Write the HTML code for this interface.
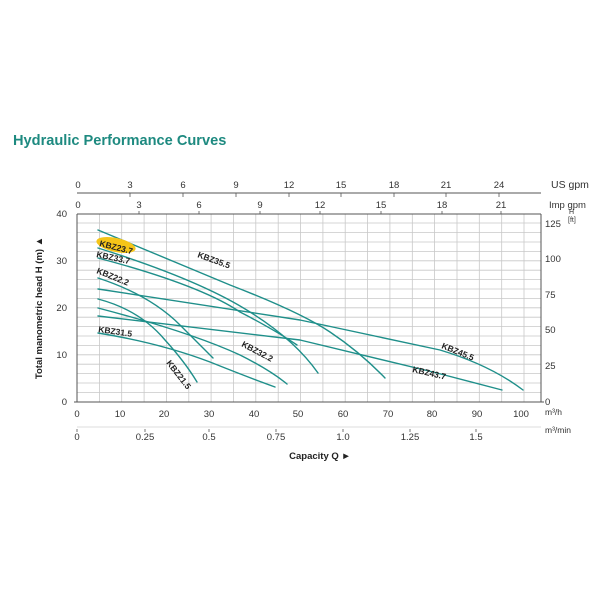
<!DOCTYPE html>
<html><head><meta charset="utf-8"><style>
body{margin:0;background:#fff;}
svg{display:block;font-family:"Liberation Sans",Arial,sans-serif;}
</style></head><body>
<svg width="600" height="600" viewBox="0 0 600 600" xmlns="http://www.w3.org/2000/svg">
<rect width="600" height="600" fill="#fff"/>
<text x="13" y="145" font-size="14.6" font-weight="bold" fill="#1e8a80">Hydraulic Performance Curves</text>
<g stroke="#c8c8c8" stroke-width="0.8">
<line x1="77" y1="223" x2="541" y2="223"/>
<line x1="77" y1="232.6" x2="541" y2="232.6"/><line x1="77" y1="242" x2="541" y2="242"/><line x1="77" y1="251.4" x2="541" y2="251.4"/><line x1="77" y1="260.8" x2="541" y2="260.8"/><line x1="77" y1="270.2" x2="541" y2="270.2"/><line x1="77" y1="279.6" x2="541" y2="279.6"/><line x1="77" y1="289" x2="541" y2="289"/><line x1="77" y1="298.4" x2="541" y2="298.4"/><line x1="77" y1="307.8" x2="541" y2="307.8"/><line x1="77" y1="317.2" x2="541" y2="317.2"/><line x1="77" y1="326.6" x2="541" y2="326.6"/><line x1="77" y1="336" x2="541" y2="336"/><line x1="77" y1="345.4" x2="541" y2="345.4"/><line x1="77" y1="354.8" x2="541" y2="354.8"/><line x1="77" y1="364.2" x2="541" y2="364.2"/><line x1="77" y1="373.6" x2="541" y2="373.6"/><line x1="77" y1="383" x2="541" y2="383"/><line x1="77" y1="392.4" x2="541" y2="392.4"/>
<line x1="99.4" y1="214" x2="99.4" y2="402"/><line x1="121.7" y1="214" x2="121.7" y2="402"/><line x1="144.1" y1="214" x2="144.1" y2="402"/><line x1="166.4" y1="214" x2="166.4" y2="402"/><line x1="188.8" y1="214" x2="188.8" y2="402"/><line x1="211.1" y1="214" x2="211.1" y2="402"/><line x1="233.5" y1="214" x2="233.5" y2="402"/><line x1="255.8" y1="214" x2="255.8" y2="402"/><line x1="278.2" y1="214" x2="278.2" y2="402"/><line x1="300.5" y1="214" x2="300.5" y2="402"/><line x1="322.9" y1="214" x2="322.9" y2="402"/><line x1="345.2" y1="214" x2="345.2" y2="402"/><line x1="367.6" y1="214" x2="367.6" y2="402"/><line x1="389.9" y1="214" x2="389.9" y2="402"/><line x1="412.3" y1="214" x2="412.3" y2="402"/><line x1="434.6" y1="214" x2="434.6" y2="402"/><line x1="457" y1="214" x2="457" y2="402"/><line x1="479.3" y1="214" x2="479.3" y2="402"/><line x1="501.7" y1="214" x2="501.7" y2="402"/><line x1="524" y1="214" x2="524" y2="402"/>
</g>
<g stroke="#555" stroke-width="1" fill="none">
<line x1="77" y1="214" x2="77" y2="402"/>
<line x1="541" y1="214" x2="541" y2="402"/>
<line x1="74" y1="402" x2="544" y2="402"/>
<line x1="77" y1="214" x2="541" y2="214"/>
<line x1="77" y1="193" x2="541" y2="193"/>
<line x1="77" y1="427" x2="541" y2="427" stroke="#ddd"/>
</g>
<g font-size="9.5" fill="#333">
<text x="67" y="217" text-anchor="end">40</text><text x="67" y="264" text-anchor="end">30</text><text x="67" y="311" text-anchor="end">20</text><text x="67" y="358" text-anchor="end">10</text><text x="67" y="405" text-anchor="end">0</text>
<text x="545" y="227">125</text><text x="545" y="262">100</text><text x="545" y="298">75</text><text x="545" y="333">50</text><text x="545" y="369">25</text><text x="545" y="405">0</text>
<text x="569" y="214" font-size="7">H</text><text x="568" y="222" font-size="7">[ft]</text>
<g text-anchor="middle">
<text x="78" y="188">0</text><text x="130" y="188">3</text><text x="183" y="188">6</text><text x="236" y="188">9</text><text x="289" y="188">12</text><text x="341" y="188">15</text><text x="394" y="188">18</text><text x="446" y="188">21</text><text x="499" y="188">24</text>
<text x="78" y="208">0</text><text x="139" y="208">3</text><text x="199" y="208">6</text><text x="260" y="208">9</text><text x="320" y="208">12</text><text x="381" y="208">15</text><text x="442" y="208">18</text><text x="501" y="208">21</text>
<text x="77" y="417">0</text><text x="120" y="417">10</text><text x="164" y="417">20</text><text x="209" y="417">30</text><text x="254" y="417">40</text><text x="298" y="417">50</text><text x="343" y="417">60</text><text x="388" y="417">70</text><text x="432" y="417">80</text><text x="477" y="417">90</text><text x="521" y="417">100</text>
<text x="77" y="440">0</text><text x="145" y="440">0.25</text><text x="209" y="440">0.5</text><text x="276" y="440">0.75</text><text x="343" y="440">1.0</text><text x="410" y="440">1.25</text><text x="476" y="440">1.5</text>
</g>
<text x="551" y="188" font-size="10.5">US gpm</text>
<text x="549" y="208" font-size="9.5">Imp gpm</text>
<text x="545" y="415" font-size="8.5">m³/h</text>
<text x="545" y="433" font-size="8.5">m³/min</text>
</g>
<g stroke="#555" stroke-width="0.8">
<line x1="130" y1="193" x2="130" y2="197"/><line x1="183" y1="193" x2="183" y2="197"/><line x1="236" y1="193" x2="236" y2="197"/><line x1="289" y1="193" x2="289" y2="197"/><line x1="341" y1="193" x2="341" y2="197"/><line x1="394" y1="193" x2="394" y2="197"/><line x1="446" y1="193" x2="446" y2="197"/><line x1="499" y1="193" x2="499" y2="197"/>
<line x1="139" y1="211" x2="139" y2="214"/><line x1="199" y1="211" x2="199" y2="214"/><line x1="260" y1="211" x2="260" y2="214"/><line x1="320" y1="211" x2="320" y2="214"/><line x1="381" y1="211" x2="381" y2="214"/><line x1="442" y1="211" x2="442" y2="214"/><line x1="501" y1="211" x2="501" y2="214"/>
<line x1="77" y1="429" x2="77" y2="432"/><line x1="145" y1="429" x2="145" y2="432"/><line x1="209" y1="429" x2="209" y2="432"/><line x1="276" y1="429" x2="276" y2="432"/><line x1="343" y1="429" x2="343" y2="432"/><line x1="410" y1="429" x2="410" y2="432"/><line x1="476" y1="429" x2="476" y2="432"/>
</g>
<text x="320" y="459" font-size="9.5" font-weight="bold" fill="#222" text-anchor="middle">Capacity Q  ►</text>
<text transform="translate(42,308) rotate(-90)" font-size="9.5" font-weight="bold" fill="#222" text-anchor="middle">Total manometric head H (m)  ▲</text>
<g stroke="#1f8f8a" stroke-width="1.4" fill="none" stroke-linejoin="round" stroke-linecap="round">
<path d="M98,230 L230,285 Q300,312 330,332 Q360,352 385,378"/>
<path d="M98,248 Q200,280 250,312 Q295,340 318,373"/>
<path d="M98,258 Q200,285 240,312 Q275,330 297,345"/>
<path d="M98,278 Q150,295 180,325 Q200,345 213,358"/>
<path d="M98,289 L300,320 L440,350 Q490,365 523,390"/>
<path d="M98,299 Q140,310 165,340 Q185,362 197,382"/>
<path d="M98,308 Q190,332 240,355 Q270,370 287,384"/>
<path d="M98,316 L300,340 L433,372 L502,390"/>
<path d="M98,333 Q160,343 210,362 Q250,378 275,387"/>
</g>
<ellipse cx="116" cy="245" rx="20" ry="7" fill="#f5c518" transform="rotate(12 116 245)"/>
<g font-size="8.5" font-weight="bold" fill="#222">
<text transform="translate(99,246) rotate(14)">KBZ23.7</text>
<text transform="translate(96,257) rotate(12)">KBZ33.7</text>
<text transform="translate(96,273) rotate(22)">KBZ22.2</text>
<text transform="translate(197,257) rotate(20)">KBZ35.5</text>
<text transform="translate(98,332) rotate(8)">KBZ31.5</text>
<text transform="translate(166,363) rotate(52)">KBZ21.5</text>
<text transform="translate(241,346) rotate(28)">KBZ32.2</text>
<text transform="translate(441,348) rotate(22)">KBZ45.5</text>
<text transform="translate(412,372) rotate(13)">KBZ43.7</text>
</g>
</svg>
</body></html>
